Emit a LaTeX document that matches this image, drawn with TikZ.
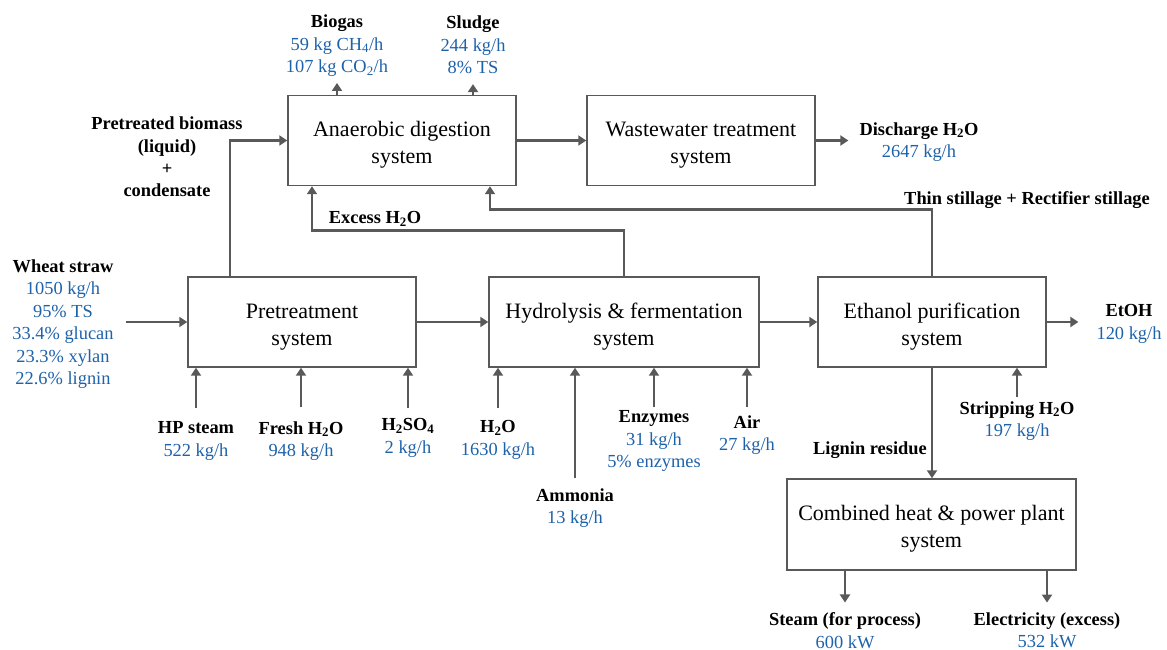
\documentclass[tikz,border=0pt]{standalone}
\usepackage{fontspec}
\setmainfont{Liberation Serif}
\usetikzlibrary{arrows.meta}
\definecolor{flowblue}{RGB}{30,98,170}
\definecolor{linegray}{RGB}{89,89,89}
\newcommand{\hd}[1]{\textcolor{black}{\textbf{#1}}}
\newcommand{\ustrut}{\rule{0pt}{24pt}}

\begin{document}
\begin{tikzpicture}[x=1pt,y=-1pt,unit/.style={draw=linegray,line width=1.4pt,align=center,minimum width=228pt,minimum height=90pt,inner sep=0pt,font=\fontsize{22}{27}\selectfont},lbl/.style={align=center,inner sep=0pt,text=flowblue,font=\fontsize{18.4}{22.4}\selectfont},flow/.style={-{Triangle[length=8pt,width=10pt]},line width=2.6pt,draw=linegray}]
\useasboundingbox (0,0) rectangle (1167,650);

% Process units
\node[unit] (ad) at (402,140.5) {\ustrut Anaerobic digestion\\system};
\node[unit] (ww) at (701,140.5) {\ustrut Wastewater treatment\\system};
\node[unit] (pre) at (302,322) {\ustrut Pretreatment\\system};
\node[unit,minimum width=270pt] (hf) at (624,322) {\ustrut Hydrolysis \& fermentation\\system};
\node[unit] (ep) at (932,322) {\ustrut Ethanol purification\\system};
\node[unit,minimum width=289pt,minimum height=91pt] (chp) at (931.5,524.5) {\ustrut Combined heat \& power plant\\system};

% Stream labels
\node[lbl] (biogas) at (337,46) {\hd{Biogas}\\59 kg CH\textsubscript{4}/h\\107 kg CO\textsubscript{2}/h};
\node[lbl] (sludge) at (473,45) {\hd{Sludge}\\244 kg/h\\8\% TS};
\node[lbl,text=black,font=\fontsize{18.4}{22.2}\selectfont\bfseries] (pbm) at (167,157) {Pretreated biomass\\(liquid)\\+\\condensate};
\node[lbl] (dis) at (919,142) {\hd{Discharge H\textsubscript{2}O}\\2647 kg/h};
\node[lbl] (tsl) at (1027,200) {\hd{Thin stillage + Rectifier stillage}};
\node[lbl] (xsw) at (375,219) {\hd{Excess H\textsubscript{2}O}};
\node[lbl] (straw) at (63,324) {\hd{Wheat straw}\\1050 kg/h\\95\% TS\\33.4\% glucan\\23.3\% xylan\\22.6\% lignin};
\node[lbl] (etoh) at (1129,324) {\hd{EtOH}\\120 kg/h};
\node[lbl,anchor=east] (lig) at (927,450) {\hd{Lignin residue}};
\node[lbl] (strip) at (1017,421) {\hd{Stripping H\textsubscript{2}O}\\197 kg/h};
\node[lbl] (stm) at (845,630.5) {\hd{Steam (for process)}\\600 kW};
\node[lbl] (elec) at (1047,630.5) {\hd{Electricity (excess)}\\532 kW};

% Feeds from below
\foreach \nm/\xx/\yy/\tgt/\gap/\txt in {steam/196/441/pre/14/{\hd{HP steam}\\522 kg/h},fresh/301/441/pre/14/{\hd{Fresh H\textsubscript{2}O}\\948 kg/h},acid/408/438/pre/11/{\hd{H\textsubscript{2}SO\textsubscript{4}}\\2 kg/h},water/498/440/hf/13/{\hd{H\textsubscript{2}O}\\1630 kg/h},ammonia/575/508/hf/10/{\hd{Ammonia}\\13 kg/h},enz/654/441/hf/3/{\hd{Enzymes}\\31 kg/h\\5\% enzymes},air/747/435/hf/8/{\hd{Air}\\27 kg/h}}{
 \node[lbl] (\nm) at (\xx,\yy) {\txt};
 \draw[flow,shorten <=\gap pt] (\nm.north) -- (\nm.north |- \tgt.south);
}

% Main line
\draw[flow,shorten <=12pt] (straw.east |- pre.west) -- (pre.west);
\draw[flow] (pre.east) -- (hf.west);
\draw[flow] (hf.east) -- (ep.west);
\draw[flow,shorten >=18pt] (ep.east) -- (ep.east -| etoh.west);
\draw[flow] (ad.east) -- (ww.west);
\draw[flow,shorten >=11pt] (ww.east) -- (ww.east -| dis.west);
\draw[flow] (ep.south) -- (ep.south |- chp.north);
\draw[flow,shorten >=10pt] (stm.north |- chp.south) -- (stm.north);
\draw[flow,shorten >=10pt] (elec.north |- chp.south) -- (elec.north);
\draw[flow,shorten <=4pt] (strip.north) -- (strip.north |- ep.south);
\draw[flow,shorten >=6pt] (biogas.south |- ad.north) -- (biogas.south);
\draw[flow,shorten >=10pt] (sludge.south |- ad.north) -- (sludge.south);

% Recycle streams to the digester
\coordinate (tsrow) at (0,209.5);
\coordinate (xsrow) at (0,230.5);
\draw[flow] ([xshift=-72pt]pre.north) |- (ad.west);
\draw[flow] (hf.north) -- (hf.north |- xsrow) -| ([xshift=-90pt]ad.south);
\draw[flow] (ep.north) -- (ep.north |- tsrow) -| ([xshift=88pt]ad.south);
\end{tikzpicture}
\end{document}
